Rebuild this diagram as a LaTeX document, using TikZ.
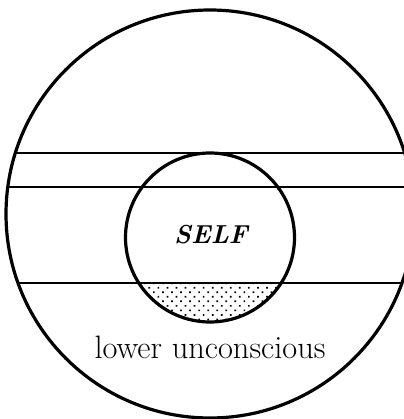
\documentclass[tikz,border=0pt]{standalone}
\usepackage{tikz}
\usetikzlibrary{patterns.meta}
\tikzset{outline/.style={line width=1.6pt},
 level/.style={line width=1.4pt},
 every node/.style={font=\fontsize{16.2}{19}\selectfont}}

\begin{document}
\begin{tikzpicture}[x=0.5pt,y=0.5pt]
\useasboundingbox (0,0) rectangle (403,419);
\coordinate (outer) at (210,205);
\coordinate (inner) at (210,181.5);
% dotted cap of the self below the lowest line
\begin{scope}
\clip (inner) circle[radius=84.5];
\fill[pattern={Dots[distance=3.2pt,angle=45,radius=0.6pt]}] (100,50) rectangle (320,136);
\end{scope}
\begin{scope}
\clip (outer) circle[radius=204];
\foreach \height in {266,232,136}
 \draw[level] (0,\height) -- (420,\height);
\end{scope}
\draw[outline] (outer) circle[radius=204];
\draw[outline] (inner) circle[radius=84.5];
\node (self) at (211,184) {\fontsize{13}{16}\selectfont\bfseries\itshape SELF};
\node (lower) at (210,71.5) {lower unconscious};
\end{tikzpicture}
\end{document}
